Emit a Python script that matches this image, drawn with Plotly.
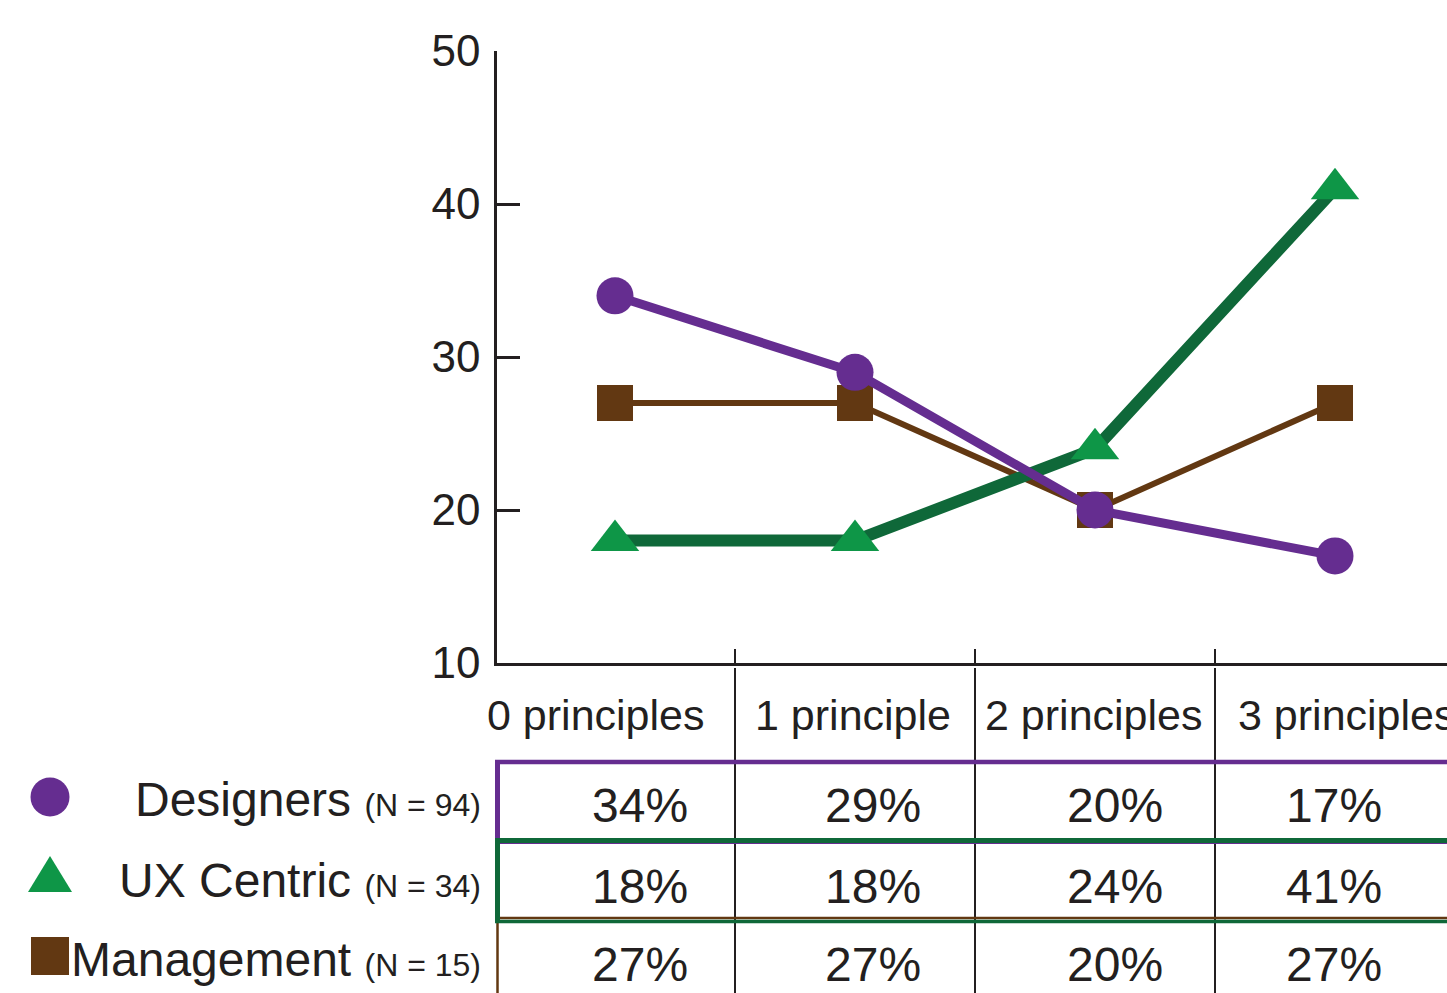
import plotly.graph_objects as go

# ---- data ----
categories = ["0 principles", "1 principle", "2 principles", "3 principles"]
groups = ["Designers", "UX Centric", "Management"]
group_n = [94, 34, 15]
designers = [34, 29, 20, 17]
ux_centric = [18, 18, 24, 41]
management = [27, 27, 20, 27]
y_ticks = [10, 20, 30, 40, 50]

# ---- styling ----
W, H = 1447, 993
L, R, T, B = 497, 0, 51, 330
FONT = "Liberation Sans, Arial, Helvetica, sans-serif"
INK = "#231F20"
PURPLE = "#652D90"
GREEN_LINE = "#0F6839"
GREEN_MARK = "#0E9647"
BROWN = "#623812"

plot_w = W - L - R
plot_h = H - T - B


def px(xp):
    """figure pixel x -> paper x"""
    return (xp - L) / plot_w


def py(yp):
    """figure pixel y -> paper y"""
    return (H - B - yp) / plot_h


xs = list(range(len(categories)))

fig = go.Figure()

fig.add_trace(go.Scatter(
    x=xs, y=management, mode="lines+markers", name="Management",
    line=dict(color=BROWN, width=6),
    marker=dict(symbol="square", size=36, color=BROWN),
    cliponaxis=False, showlegend=False,
))
fig.add_trace(go.Scatter(
    x=xs, y=ux_centric, mode="lines", name="UX Centric",
    line=dict(color=GREEN_LINE, width=12),
    cliponaxis=False, showlegend=False,
))
fig.add_trace(go.Scatter(
    x=xs, y=ux_centric, mode="markers", name="UX Centric",
    marker=dict(symbol="triangle-up", size=42, color=GREEN_MARK),
    cliponaxis=False, showlegend=False,
))
fig.add_trace(go.Scatter(
    x=xs, y=designers, mode="lines+markers", name="Designers",
    line=dict(color=PURPLE, width=9),
    marker=dict(symbol="circle", size=37, color=PURPLE),
    cliponaxis=False, showlegend=False,
))

shapes = []
annotations = []

# column dividers of the table below the chart
for xv in [0.5, 1.5, 2.5]:
    shapes.append(dict(type="line", xref="x", yref="paper", x0=xv, x1=xv,
                       y0=py(668), y1=py(H + 5), line=dict(color=INK, width=2)))

# row frames
def hline(y, color, width, x0=495, x1=W + 5):
    shapes.append(dict(type="line", xref="paper", yref="paper",
                       x0=px(x0), x1=px(x1), y0=py(y), y1=py(y),
                       line=dict(color=color, width=width)))


def vline(x, y0, y1, color, width):
    shapes.append(dict(type="line", xref="paper", yref="paper",
                       x0=px(x), x1=px(x), y0=py(y0), y1=py(y1),
                       line=dict(color=color, width=width)))


hline(762, PURPLE, 4.5)
vline(497.5, 760, 842, PURPLE, 5)
hline(843, PURPLE, 2)
hline(918, BROWN, 2.5)
vline(497.5, 917, H + 5, BROWN, 2.5)
hline(840.5, GREEN_LINE, 5)
vline(497.5, 838, 923, GREEN_LINE, 5)
hline(921.5, GREEN_LINE, 3.5)

# category labels
cat_x = [596, 853, 1094, 1347]
for name, cx in zip(categories, cat_x):
    annotations.append(dict(text=name, xref="paper", yref="paper",
                            x=px(cx), y=py(715), xanchor="center", yanchor="middle",
                            showarrow=False, font=dict(family=FONT, size=43, color=INK)))

# table values
val_x = [640, 873, 1115, 1334]
row_y = [805, 886, 964]
for series, ry in zip([designers, ux_centric, management], row_y):
    for v, vx in zip(series, val_x):
        annotations.append(dict(text=f"{v}%", xref="paper", yref="paper",
                                x=px(vx), y=py(ry), xanchor="center", yanchor="middle",
                                showarrow=False, font=dict(family=FONT, size=48, color=INK)))

# row headers
label_y = [799, 880, 959]
for g, n, ly in zip(groups, group_n, label_y):
    annotations.append(dict(
        text=f"{g} <span style='font-size:32px'>(N = {n})</span>",
        xref="paper", yref="paper", x=px(483), y=py(ly),
        xanchor="right", yanchor="middle", showarrow=False,
        font=dict(family=FONT, size=48, color=INK)))

# row header symbols
shapes.append(dict(type="circle", xref="paper", yref="paper",
                   x0=px(30.5), x1=px(69.5), y0=py(816.5), y1=py(777.5),
                   fillcolor=PURPLE, line=dict(width=0)))
tri = [(28, 892), (72, 892), (50, 856)]
path = "M " + " L ".join(f"{px(a)},{py(b)}" for a, b in tri) + " Z"
shapes.append(dict(type="path", xref="paper", yref="paper", path=path,
                   fillcolor=GREEN_MARK, line=dict(width=0)))
shapes.append(dict(type="rect", xref="paper", yref="paper",
                   x0=px(31), x1=px(69), y0=py(975), y1=py(937),
                   fillcolor=BROWN, line=dict(width=0)))

fig.update_layout(
    width=W, height=H,
    margin=dict(l=L, r=R, t=T, b=B, pad=0),
    paper_bgcolor="white", plot_bgcolor="white",
    shapes=shapes, annotations=annotations,
    xaxis=dict(
        range=[-118 / 240, (W - 615) / 240], showgrid=False, zeroline=False,
        showline=True, linecolor=INK, linewidth=2.5,
        tickmode="array", tickvals=[0.5, 1.5, 2.5], ticks="inside",
        ticklen=14, tickwidth=2, tickcolor=INK, showticklabels=False,
    ),
    yaxis=dict(
        range=[10, 50], showgrid=False, zeroline=False,
        showline=True, linecolor=INK, linewidth=2.5,
        tickmode="array", tickvals=y_ticks, ticks="inside",
        ticklen=23, tickwidth=2.5, tickcolor=INK,
        ticklabelstandoff=5,
        tickfont=dict(family=FONT, size=44, color=INK),
    ),
)

fig.write_html("out.html")
